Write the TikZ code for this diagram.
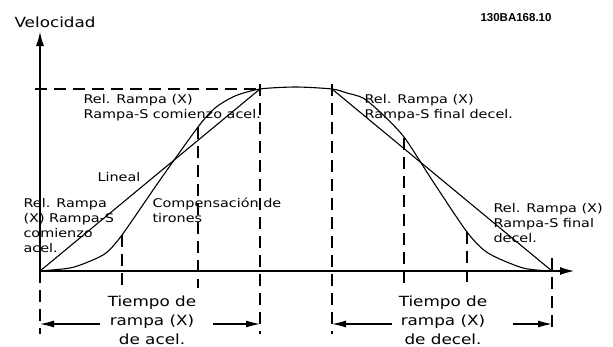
\documentclass[tikz,border=0pt]{standalone}
\usepackage{fontspec}
\usetikzlibrary{arrows.meta}
\newfontfamily\labfont[FakeStretch=1.2]{DejaVu Sans}
\newfontfamily\codefont{Liberation Sans}
\begin{document}
\begin{tikzpicture}[x=1pt,y=-1pt,line width=1.1pt,
  dline/.style={line width=1.1pt,dash pattern=on 12pt off 7pt},
  axisarrow/.style={-{Latex[length=14pt,width=8pt]}},
  dimarrow/.style={-{Latex[length=14pt,width=7pt]}},
  lab/.style={font=\labfont\fontsize{12}{15}\selectfont,align=left,inner sep=0pt,anchor=base west},
  biglab/.style={font=\labfont\fontsize{14}{19}\selectfont,align=center,inner sep=0pt,anchor=base},
  codelab/.style={font=\codefont\bfseries\fontsize{11.5}{13}\selectfont,inner sep=0pt,anchor=base west}]
\useasboundingbox (0,0) rectangle (613,346);
% axes
\coordinate (O) at (40,271);
\coordinate (Ytip) at (40,32);
\coordinate (Xtip) at (574,271);
\draw[axisarrow] (O) -- (Ytip);
\draw[axisarrow] (O) -- (Xtip);
% key points
\coordinate (T0) at (35,89);
\coordinate (A) at (260,89);
\coordinate (B) at (332,89);
\coordinate (E) at (552,271);
% dashed guides
\draw[dline] (T0) -- (A);
\draw[dline] (40,271) -- (40,334);
\draw[dline] (122,235) -- (122,288);
\draw[dline] (198,127) -- (198,288);
\draw[dline] (260,84) -- (260,334);
\draw[dline] (332,84) -- (332,334);
\draw[dline] (404,138) -- (404,288);
\draw[dline] (467,232) -- (467,288);
\draw[dline] (552,258) -- (552,334);
% linear ramps
\draw (O) -- (A);
\draw (B) -- (E);
% S-ramp
\draw plot[smooth,tension=0.45] coordinates {(40,271) (70,268) (88,262) (106,253) (122,235) (160,180) (198,127) (215,108) (235,96) (260,89) (296,87) (332,89) (347,93) (363,98) (380,112) (404,137) (432,180) (467,232) (488,253) (523,268) (552,271)};
% dimension arrows
\coordinate (L1) at (40,324);
\coordinate (L2) at (100,324);
\coordinate (L3) at (213,324);
\coordinate (L4) at (260,324);
\coordinate (R1) at (332,324);
\coordinate (R2) at (392,324);
\coordinate (R3) at (513,324);
\coordinate (R4) at (552,324);
\draw[dimarrow] (L2) -- (L1);
\draw[dimarrow] (L3) -- (L4);
\draw[dimarrow] (R2) -- (R1);
\draw[dimarrow] (R3) -- (R4);
% texts (base anchor = baseline of last line)
\node[lab,font=\labfont\fontsize{14}{17}\selectfont] (vel) at (14,27) {Velocidad};
\node[codelab] (id) at (480,21) {130BA168.10};
\node[lab] (ra) at (83,118) {Rel. Rampa (X)\\Rampa-S comienzo acel.};
\node[lab] (rd) at (364,118) {Rel. Rampa (X)\\Rampa-S final decel.};
\node[lab] (lin) at (97,181) {Lineal};
\node[lab] (ls) at (23,252) {Rel. Rampa\\(X) Rampa-S\\comienzo\\acel.};
\node[lab] (comp) at (152,222) {Compensación de\\tirones};
\node[lab] (rs) at (493,242) {Rel. Rampa (X)\\Rampa-S final\\decel.};
\node[biglab] (ta) at (152,344) {Tiempo de\\rampa (X)\\de acel.};
\node[biglab] (td) at (443,344) {Tiempo de\\rampa (X)\\de decel.};
\end{tikzpicture}
\end{document}
